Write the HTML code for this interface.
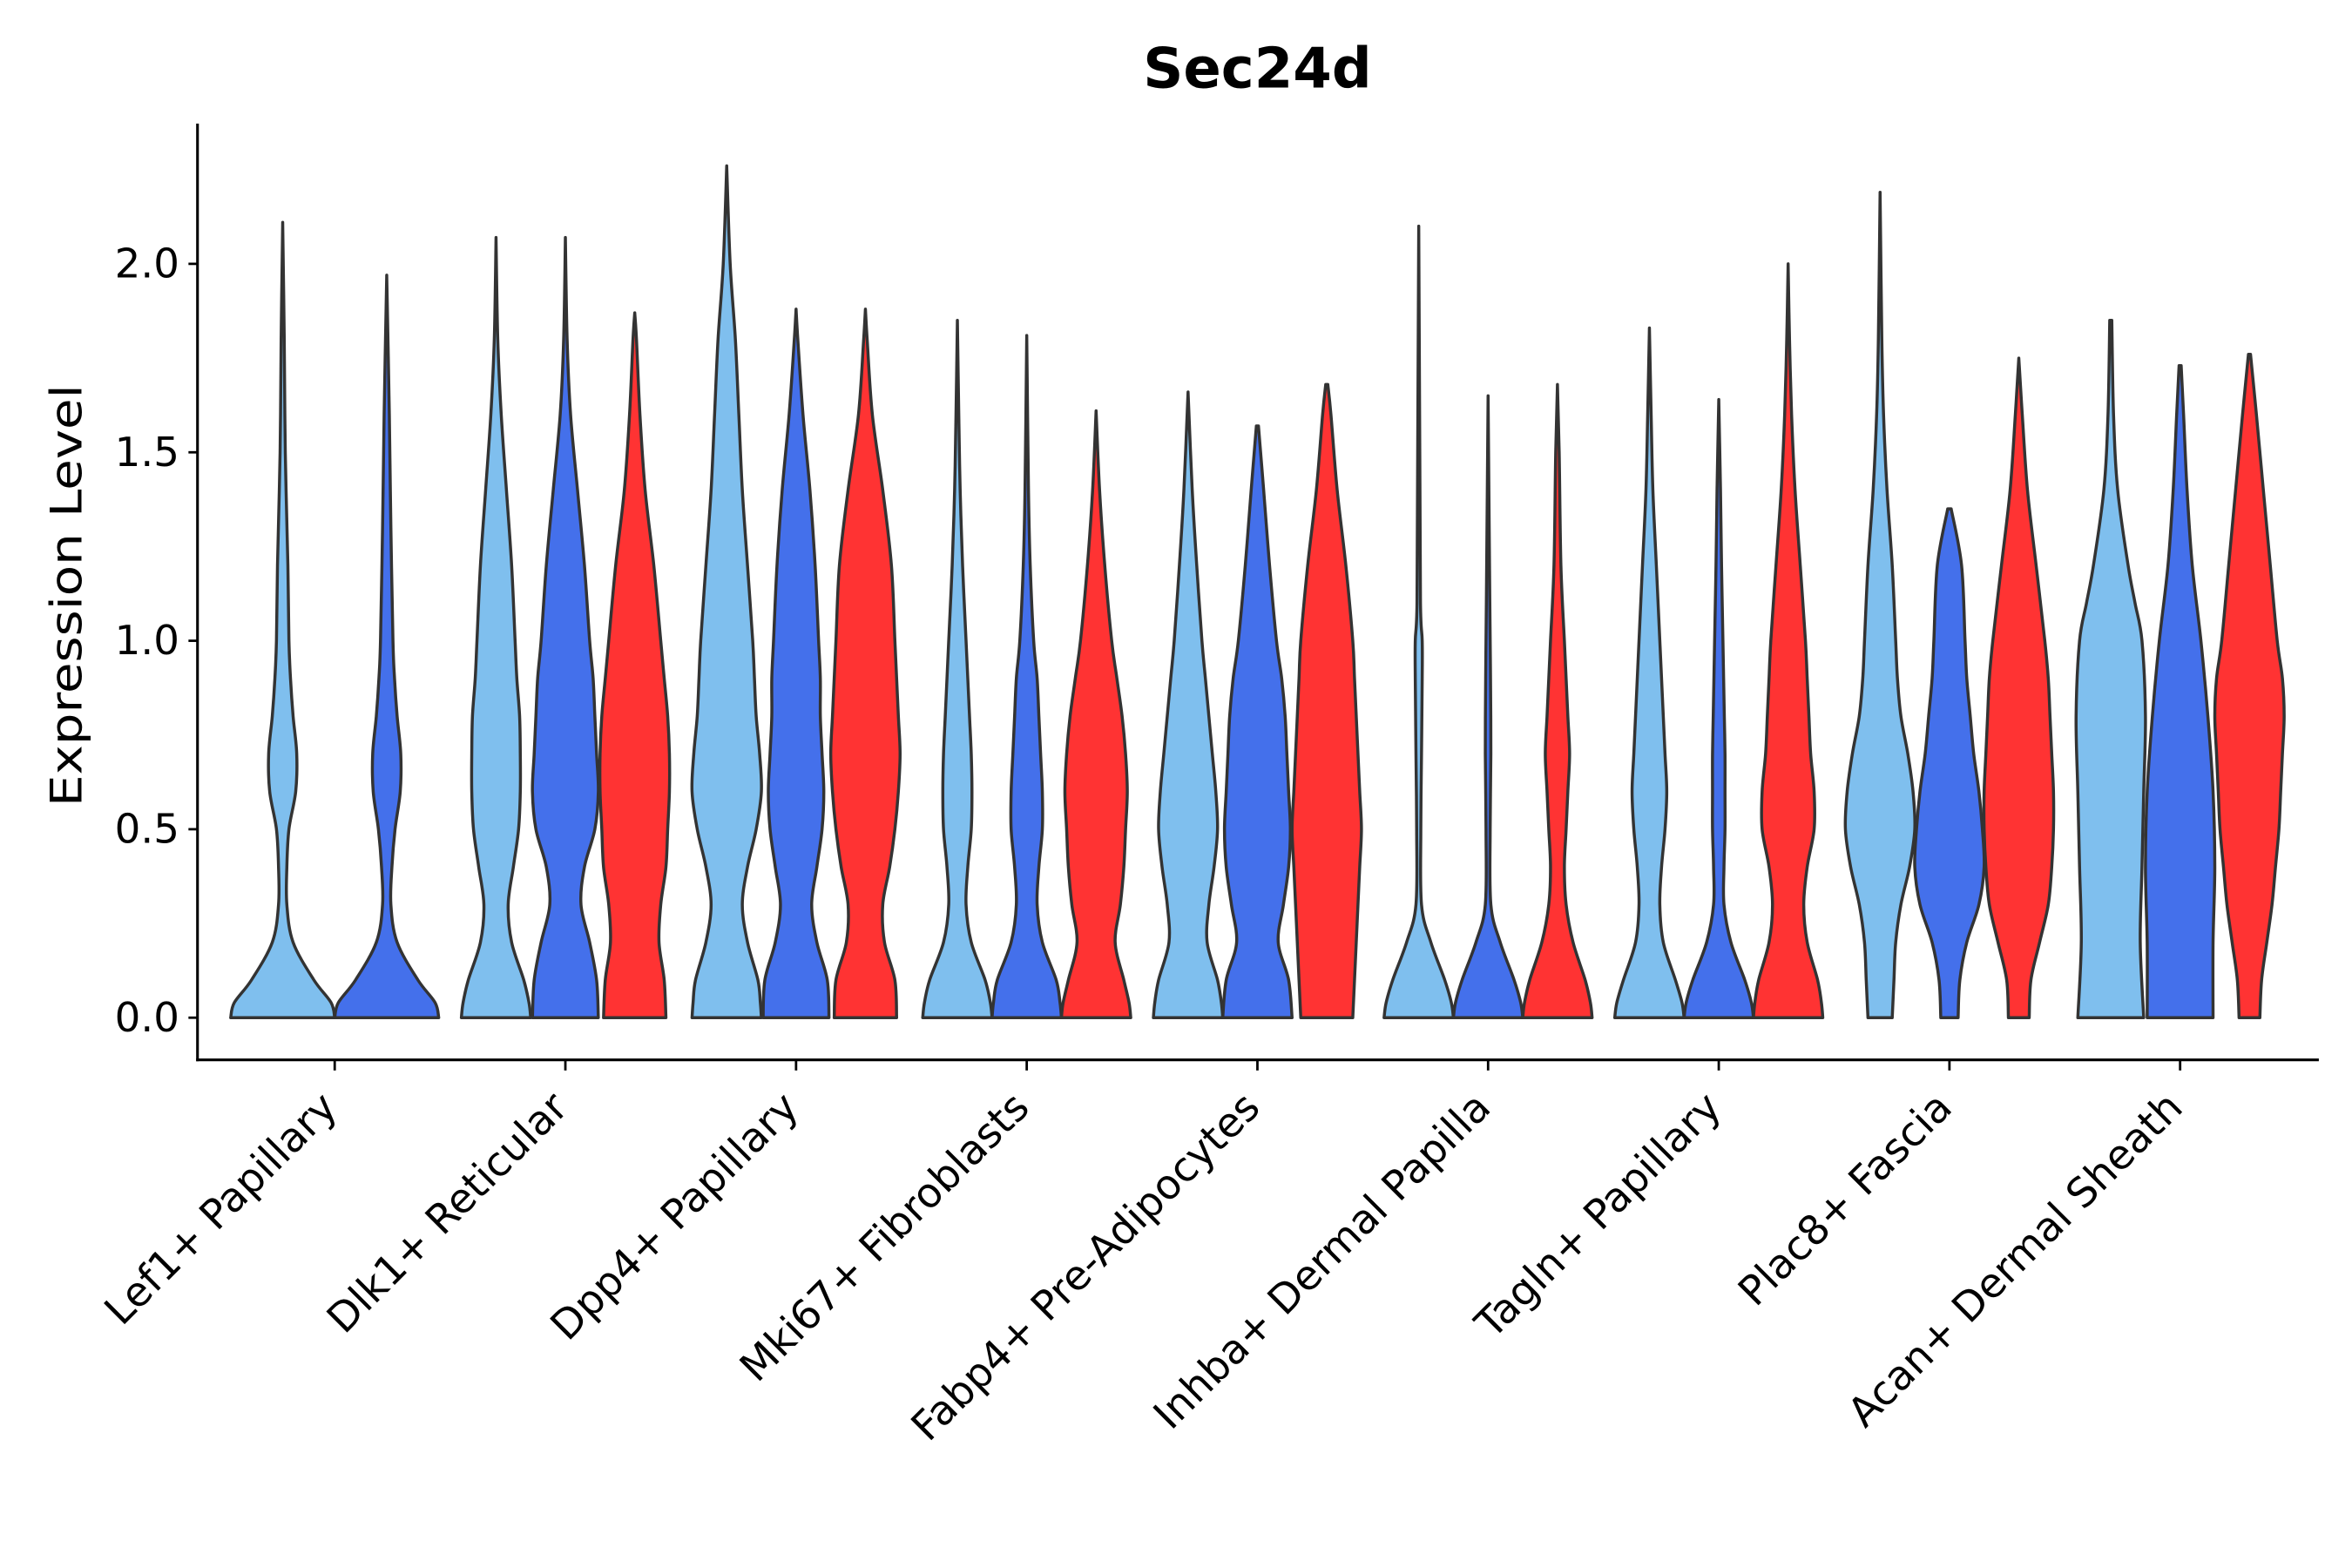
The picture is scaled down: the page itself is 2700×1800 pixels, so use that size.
<!DOCTYPE html>
<html><head><meta charset="utf-8"><style>
html,body{margin:0;padding:0;background:#fff}
svg{display:block}
text{font-family:"DejaVu Sans","Liberation Sans",sans-serif;fill:#000}
</style></head><body>
<svg id="chart" width="2700" height="1800" viewBox="0 0 1560 1040" xmlns="http://www.w3.org/2000/svg">
<rect width="1560" height="1040" fill="#fff"/>
<text x="834" y="58" font-size="37" font-weight="bold" text-anchor="middle">Sec24d</text>
<text transform="translate(54,395) rotate(-90)" font-size="29" text-anchor="middle" textLength="280" lengthAdjust="spacingAndGlyphs">Expression Level</text>
<g id="violins"></g>
<g id="axes"></g>
</svg>
<script>
const categories = ["Lef1+ Papillary","Dlk1+ Reticular","Dpp4+ Papillary","Mki67+ Fibroblasts","Fabp4+ Pre-Adipocytes","Inhba+ Dermal Papilla","Tagln+ Papillary","Plac8+ Fascia","Acan+ Dermal Sheath"];
const seriesNames = ["light","dark","red"];
const yTicks = [0,0.5,1.0,1.5,2.0];
const yTickLabels = ["0.0","0.5","1.0","1.5","2.0"];
const lightDensity = [
 [[0,1],[0.04,0.93],[0.1,0.6],[0.2,0.2],[0.3,0.08],[0.4,0.08],[0.5,0.12],[0.6,0.25],[0.7,0.27],[0.8,0.2],[0.9,0.15],[1.0,0.12],[1.2,0.1],[1.5,0.05],[1.8,0.03],[2.11,0]],
 [[0,1],[0.04,0.95],[0.1,0.8],[0.2,0.45],[0.3,0.35],[0.4,0.5],[0.5,0.65],[0.6,0.7],[0.7,0.7],[0.8,0.68],[0.9,0.6],[1.0,0.55],[1.2,0.45],[1.4,0.3],[1.6,0.15],[1.8,0.05],[2.07,0]],
 [[0,1],[0.04,0.97],[0.1,0.9],[0.2,0.6],[0.3,0.45],[0.4,0.6],[0.5,0.85],[0.6,1],[0.7,0.95],[0.8,0.85],[0.9,0.8],[1.0,0.75],[1.2,0.6],[1.4,0.45],[1.6,0.35],[1.8,0.25],[2.0,0.1],[2.26,0]],
 [[0,1],[0.04,0.95],[0.1,0.8],[0.2,0.4],[0.3,0.25],[0.4,0.3],[0.5,0.4],[0.6,0.42],[0.7,0.4],[0.8,0.35],[0.9,0.3],[1.0,0.25],[1.2,0.15],[1.4,0.08],[1.6,0.04],[1.85,0]],
 [[0,1],[0.04,0.96],[0.1,0.85],[0.2,0.55],[0.3,0.6],[0.4,0.75],[0.5,0.85],[0.6,0.8],[0.7,0.7],[0.8,0.6],[0.9,0.5],[1.0,0.4],[1.2,0.25],[1.4,0.12],[1.66,0]],
 [[0,1],[0.04,0.94],[0.1,0.75],[0.2,0.35],[0.3,0.08],[0.5,0.06],[0.7,0.08],[0.9,0.1],[1.0,0.1],[1.1,0.05],[1.5,0.03],[2.1,0]],
 [[0,1],[0.04,0.94],[0.1,0.75],[0.2,0.4],[0.3,0.3],[0.4,0.35],[0.5,0.45],[0.6,0.5],[0.7,0.45],[0.8,0.4],[0.9,0.35],[1.0,0.3],[1.2,0.2],[1.4,0.1],[1.6,0.05],[1.83,0]],
 [[0,0.35],[0.1,0.4],[0.2,0.45],[0.3,0.6],[0.4,0.85],[0.5,1],[0.6,0.95],[0.7,0.8],[0.8,0.6],[0.9,0.5],[1.0,0.45],[1.2,0.35],[1.4,0.2],[1.6,0.1],[1.8,0.05],[2.19,0]],
 [[0,0.95],[0.2,0.85],[0.4,0.9],[0.6,0.95],[0.8,1],[1.0,0.9],[1.1,0.7],[1.2,0.5],[1.4,0.2],[1.6,0.08],[1.85,0.03]]
];
const darkDensity = [
 [[0,1],[0.04,0.93],[0.1,0.6],[0.2,0.2],[0.3,0.08],[0.4,0.1],[0.5,0.16],[0.6,0.26],[0.7,0.27],[0.8,0.2],[0.9,0.15],[1.0,0.12],[1.3,0.08],[1.6,0.05],[1.97,0]],
 [[0,0.95],[0.1,0.9],[0.2,0.7],[0.3,0.45],[0.4,0.55],[0.5,0.85],[0.6,0.95],[0.7,0.9],[0.8,0.85],[0.9,0.8],[1.0,0.7],[1.2,0.55],[1.4,0.35],[1.6,0.15],[1.8,0.05],[2.07,0]],
 [[0,0.95],[0.1,0.9],[0.2,0.6],[0.3,0.45],[0.4,0.6],[0.5,0.75],[0.6,0.8],[0.7,0.75],[0.8,0.7],[0.9,0.7],[1.0,0.65],[1.2,0.55],[1.4,0.4],[1.6,0.2],[1.8,0.05],[1.88,0]],
 [[0,1],[0.04,0.96],[0.1,0.85],[0.2,0.45],[0.3,0.3],[0.4,0.35],[0.5,0.45],[0.6,0.45],[0.7,0.4],[0.8,0.35],[0.9,0.3],[1.0,0.2],[1.2,0.1],[1.4,0.05],[1.81,0]],
 [[0,1],[0.1,0.9],[0.2,0.6],[0.3,0.75],[0.4,0.9],[0.5,0.95],[0.6,0.9],[0.7,0.85],[0.8,0.8],[0.9,0.7],[1.0,0.55],[1.2,0.35],[1.4,0.18],[1.57,0.03]],
 [[0,1],[0.04,0.94],[0.1,0.75],[0.2,0.35],[0.3,0.08],[0.5,0.06],[0.7,0.08],[0.9,0.07],[1.1,0.05],[1.65,0]],
 [[0,1],[0.04,0.94],[0.1,0.75],[0.2,0.35],[0.3,0.15],[0.4,0.15],[0.5,0.18],[0.6,0.18],[0.7,0.18],[0.8,0.16],[0.9,0.14],[1.0,0.12],[1.2,0.08],[1.4,0.05],[1.64,0]],
 [[0,0.25],[0.1,0.3],[0.2,0.5],[0.3,0.85],[0.4,1],[0.5,0.95],[0.6,0.85],[0.7,0.7],[0.8,0.6],[0.9,0.5],[1.0,0.45],[1.2,0.35],[1.35,0.05]],
 [[0,0.95],[0.2,0.95],[0.4,1],[0.6,0.95],[0.8,0.8],[1.0,0.6],[1.2,0.35],[1.4,0.2],[1.6,0.1],[1.73,0.03]]
];
const redDensity = [
 null,
 [[0,0.9],[0.1,0.85],[0.2,0.7],[0.3,0.75],[0.4,0.9],[0.5,0.95],[0.6,1],[0.7,1],[0.8,0.95],[0.9,0.85],[1.0,0.75],[1.2,0.55],[1.4,0.3],[1.6,0.15],[1.8,0.05],[1.87,0]],
 [[0,0.9],[0.1,0.85],[0.2,0.55],[0.3,0.5],[0.4,0.7],[0.5,0.85],[0.6,0.95],[0.7,1],[0.8,0.95],[0.9,0.9],[1.0,0.85],[1.2,0.75],[1.4,0.5],[1.6,0.2],[1.8,0.05],[1.88,0]],
 [[0,1],[0.04,0.95],[0.1,0.8],[0.2,0.55],[0.3,0.7],[0.4,0.8],[0.5,0.85],[0.6,0.9],[0.7,0.85],[0.8,0.75],[0.9,0.6],[1.0,0.45],[1.2,0.25],[1.4,0.1],[1.61,0]],
 [[0,0.75],[0.1,0.8],[0.2,0.85],[0.3,0.9],[0.4,0.95],[0.5,1],[0.6,0.95],[0.7,0.9],[0.8,0.85],[0.9,0.8],[1.0,0.75],[1.2,0.55],[1.4,0.3],[1.6,0.12],[1.68,0.03]],
 [[0,1],[0.04,0.95],[0.1,0.8],[0.2,0.45],[0.3,0.25],[0.4,0.2],[0.5,0.25],[0.6,0.3],[0.7,0.35],[0.8,0.3],[0.9,0.25],[1.0,0.2],[1.2,0.1],[1.5,0.05],[1.68,0]],
 [[0,1],[0.04,0.96],[0.1,0.85],[0.2,0.55],[0.3,0.45],[0.4,0.55],[0.5,0.75],[0.6,0.75],[0.7,0.65],[0.8,0.6],[0.9,0.55],[1.0,0.5],[1.2,0.35],[1.4,0.2],[1.6,0.1],[1.8,0.04],[2.0,0]],
 [[0,0.3],[0.1,0.35],[0.2,0.6],[0.3,0.85],[0.4,0.95],[0.5,1],[0.6,1],[0.7,0.95],[0.8,0.9],[0.9,0.85],[1.0,0.75],[1.2,0.5],[1.4,0.25],[1.6,0.1],[1.75,0]],
 [[0,0.3],[0.1,0.35],[0.2,0.5],[0.3,0.65],[0.4,0.75],[0.5,0.85],[0.6,0.9],[0.7,0.95],[0.8,1],[0.9,0.95],[1.0,0.8],[1.2,0.6],[1.4,0.4],[1.6,0.2],[1.76,0.03]]
];
const colors = {light:"#7FBFEE", dark:"#4470EB", red:"#FF3333"};

const NS = "http://www.w3.org/2000/svg";
const plot = {left:131, right:1538, top:82, bottom:703};
function yScale(v){ return 675 - 250*v; }
function xBand(i){ return 222 + i*153.0; }
function smoothPath(pts){
  let d = "M"+pts[0][0].toFixed(2)+","+pts[0][1].toFixed(2);
  for(let i=0;i<pts.length-1;i++){
    const p0=pts[Math.max(0,i-1)],p1=pts[i],p2=pts[i+1],p3=pts[Math.min(pts.length-1,i+2)];
    const c1=[p1[0]+(p2[0]-p0[0])/6,p1[1]+(p2[1]-p0[1])/6];
    const c2=[p2[0]-(p3[0]-p1[0])/6,p2[1]-(p3[1]-p1[1])/6];
    d+=" C"+c1[0].toFixed(2)+","+c1[1].toFixed(2)+" "+c2[0].toFixed(2)+","+c2[1].toFixed(2)+" "+p2[0].toFixed(2)+","+p2[1].toFixed(2);
  }
  return d;
}
function violinPath(cx, half, dens){
  const right = dens.map(p=>[cx+half*p[1], yScale(p[0])]);
  const left = dens.slice().reverse().map(p=>[cx-half*p[1], yScale(p[0])]);
  let d = smoothPath(right);
  d += " L"+left[0][0].toFixed(2)+","+left[0][1].toFixed(2);
  d += smoothPath(left).replace(/^M[^ C]+/,"");
  d += " Z";
  return d;
}
const vg = document.getElementById("violins");
const allDens = {light:lightDensity, dark:darkDensity, red:redDensity};
categories.forEach((cat,i)=>{
  const present = seriesNames.filter(s=>allDens[s][i]);
  const n = present.length;
  const half = n===2 ? 34.5 : 23;
  const step = n===2 ? 69 : 46;
  present.forEach((s,k)=>{
    const cx = xBand(i) + (k-(n-1)/2)*step;
    const p = document.createElementNS(NS,"path");
    p.setAttribute("d", violinPath(cx, half, allDens[s][i]));
    p.setAttribute("fill", colors[s]);
    p.setAttribute("stroke", "#333");
    p.setAttribute("stroke-width", "2");
    p.setAttribute("stroke-linejoin","round");
    
    
    vg.appendChild(p);
  });
});
const ag = document.getElementById("axes");
function line(x1,y1,x2,y2,w){
  const l=document.createElementNS(NS,"line");
  l.setAttribute("x1",x1);l.setAttribute("y1",y1);l.setAttribute("x2",x2);l.setAttribute("y2",y2);
  l.setAttribute("stroke","#000");l.setAttribute("stroke-width",w);
  ag.appendChild(l); return l;
}
const ya = line(plot.left,plot.top,plot.left,plot.bottom+0.9,1.8);


const xa = line(plot.left-0.9,plot.bottom,plot.right,plot.bottom,1.8);


yTicks.forEach((v,i)=>{
  const y=yScale(v);
  const t=line(plot.left-6,y,plot.left,y,1.6);
  
  
  const tx=document.createElementNS(NS,"text");
  tx.setAttribute("x",plot.left-12);tx.setAttribute("y",y+9);
  tx.setAttribute("text-anchor","end");tx.setAttribute("font-size","27");
  tx.textContent=yTickLabels[i];
  
  
  ag.appendChild(tx);
});
categories.forEach((c,i)=>{
  const x=xBand(i);
  const t=line(x,plot.bottom,x,plot.bottom+7,1.6);
  
  
  const tx=document.createElementNS(NS,"text");
  tx.setAttribute("transform","translate("+(x+3)+","+(plot.bottom+33)+") rotate(-45)");
  tx.setAttribute("text-anchor","end");tx.setAttribute("font-size","27");
  tx.textContent=c;
  
  
  ag.appendChild(tx);
});
</script>
</body></html>
